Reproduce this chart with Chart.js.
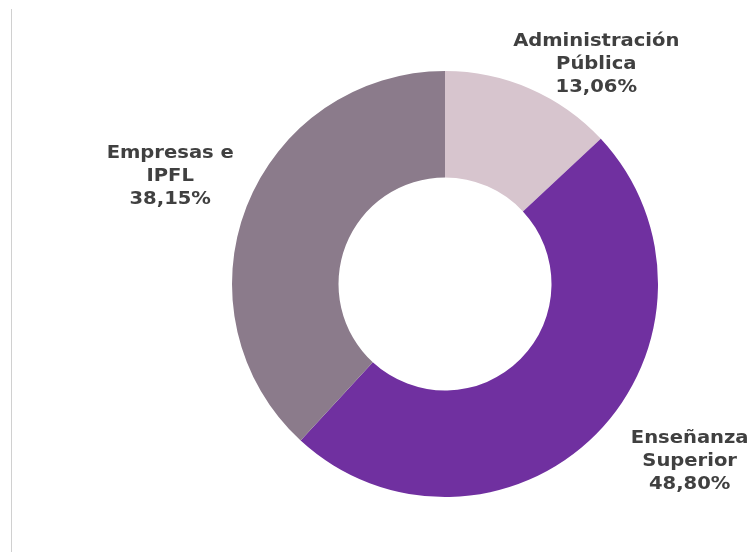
<!DOCTYPE html>
<html>
<head>
<meta charset="utf-8">
<script src="https://cdn.jsdelivr.net/npm/chart.js@4"></script>
<style>
  html, body { margin: 0; padding: 0; background: #fff; }
  #wrap { position: relative; width: 750px; height: 552px; }
  #rule { position: absolute; left: 11px; top: 9px; bottom: 0; border-left: 1px solid #d0d0d0; }
</style>
</head>
<body>
<div id="wrap">
  <div id="rule"></div>
  <canvas id="myChart" width="750" height="552"></canvas>
</div>
<script>
var sectores = [['Administración', 'Pública'], ['Enseñanza', 'Superior'], ['Empresas e', 'IPFL']];
var porcentajes = [13.06, 48.80, 38.15];
var colores = ['#d7c5ce', '#7030a0', '#8b7b8b'];

// where each label sits, relative to the middle of its slice (angle shift in degrees, distance factor of outer radius, extra dy)
var etiquetas = [
  { giro: 10.8, dist: 1.26, dy: 2 },
  { giro: -9.4, dist: 1.41, dy: 3 },
  { giro: 0, dist: 1.385, dy: 0 }
];

var labelsPlugin = {
  id: 'sliceLabels',
  afterDatasetsDraw: function (chart) {
    var ctx = chart.ctx;
    var meta = chart.getDatasetMeta(0);
    ctx.save();
    ctx.font = 'bold 17px "DejaVu Sans", Verdana, sans-serif';
    ctx.fillStyle = '#404040';
    ctx.textAlign = 'center';
    ctx.textBaseline = 'middle';
    meta.data.forEach(function (arc, i) {
      var p = arc.getProps(['x', 'y', 'startAngle', 'endAngle', 'outerRadius'], true);
      var mid = (p.startAngle + p.endAngle) / 2 + etiquetas[i].giro * Math.PI / 180;
      var r = p.outerRadius * etiquetas[i].dist;
      var x = p.x + Math.cos(mid) * r;
      var y = p.y + Math.sin(mid) * r + etiquetas[i].dy;
      var lines = sectores[i].concat([porcentajes[i].toFixed(2).replace('.', ',') + '%']);
      var lh = 23;
      lines.forEach(function (t, k) {
        ctx.save();
        ctx.translate(x, y + (k - (lines.length - 1) / 2) * lh);
        ctx.scale(1.15, 1); // wider, Verdana-like letters
        ctx.fillText(t, 0, 0);
        ctx.restore();
      });
    });
    ctx.restore();
  }
};

var ctx = document.getElementById('myChart').getContext('2d');
window.chart = new Chart(ctx, {
  type: 'doughnut',
  data: {
    labels: sectores.map(function (s) { return s.join(' '); }),
    datasets: [{
      data: porcentajes,
      backgroundColor: colores,
      borderWidth: 0
    }]
  },
  options: {
    responsive: false,
    animation: false,
    cutout: '50%',
    layout: {
      padding: { top: 71, bottom: 55, left: 232, right: 92 }
    },
    plugins: {
      legend: { display: false },
      tooltip: { enabled: false }
    }
  },
  plugins: [labelsPlugin]
});
</script>
</body>
</html>
